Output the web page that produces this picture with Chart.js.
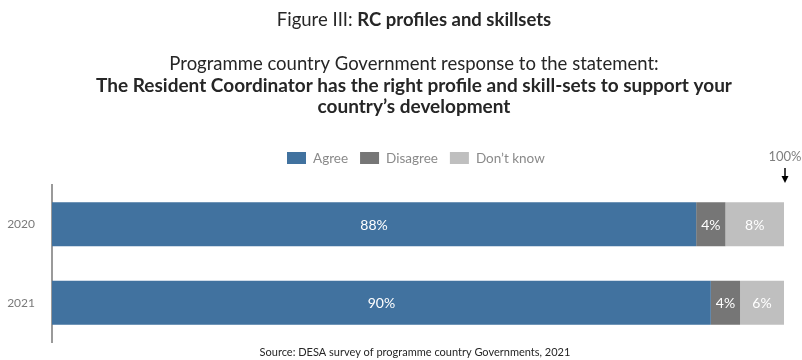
<!DOCTYPE html>
<html>
<head>
<meta charset="utf-8">
<script src="https://cdn.jsdelivr.net/npm/chart.js@4"></script>
<style>
  html, body { margin: 0; padding: 0; background: #fff; }
  #wrap { position: relative; width: 802px; height: 360px; }
</style>
</head>
<body>
<div id="wrap"><canvas id="rc-chart"></canvas></div>
<script>
// ── data ─────────────────────────────────────────────────────────────────────
var years = ['2020', '2021'];
var agree = [88, 90];
var disagree = [4, 4];
var dontKnow = [8, 6];
var seriesNames = ['Agree', 'Disagree', 'Don\u2019t know'];
var seriesColors = ['#41729f', '#767676', '#bfbfbf'];

var FONT = 'Lato, "Open Sans", sans-serif';

// Headings, legend, value labels, the 100% marker and the source line.
var decorPlugin = {
  id: 'decor',
  afterDraw: function(chart) {
    var ctx = chart.ctx;
    var cx = 414;
    ctx.save();
    ctx.textBaseline = 'middle';

    // mixed-weight line: draw pieces one after another, centred as a whole
    function mixed(parts, y, size) {
      var total = 0;
      parts.forEach(function(p) {
        ctx.font = (p.bold ? 'bold ' : '') + size + 'px ' + FONT;
        p.w = ctx.measureText(p.text).width;
        total += p.w;
      });
      var x = cx - total / 2;
      ctx.textAlign = 'left';
      parts.forEach(function(p) {
        ctx.font = (p.bold ? 'bold ' : '') + size + 'px ' + FONT;
        ctx.fillStyle = '#262626';
        ctx.fillText(p.text, x, y);
        x += p.w;
      });
    }
    mixed([{ text: 'Figure III: ' }, { text: 'RC profiles and skillsets', bold: true }], 20, 18.5);
    mixed([{ text: 'Programme country Government response to the statement:' }], 64, 18.5);
    mixed([{ text: 'The Resident Coordinator has the right profile and skill-sets to support your', bold: true }], 86, 19);
    mixed([{ text: 'country\u2019s development', bold: true }], 107, 19);

    // legend
    ctx.font = '13.5px ' + FONT;
    var lx = 287, ly = 158;
    chart.data.datasets.forEach(function(ds) {
      ctx.fillStyle = ds.backgroundColor;
      ctx.fillRect(lx, ly - 6, 19, 12);
      ctx.fillStyle = '#8a8a8a';
      ctx.textAlign = 'left';
      ctx.fillText(ds.label, lx + 26, ly + 1);
      lx += 26 + ctx.measureText(ds.label).width + 12;
    });

    // value labels centred in each segment
    ctx.font = '14px ' + FONT;
    ctx.fillStyle = '#ffffff';
    ctx.textAlign = 'center';
    chart.data.datasets.forEach(function(ds, di) {
      var meta = chart.getDatasetMeta(di);
      meta.data.forEach(function(bar, i) {
        var mid = (bar.x + bar.base) / 2;
        ctx.fillText(ds.data[i] + '%', mid, bar.y + 1);
      });
    });

    // 100% marker with arrow
    var xs = chart.scales.x;
    var x100 = xs.getPixelForValue(100);
    ctx.fillStyle = '#7f7f7f';
    ctx.font = '13px ' + FONT;
    ctx.textAlign = 'center';
    ctx.fillText('100%', x100 + 1, 157);
    ctx.strokeStyle = '#000';
    ctx.lineWidth = 1.5;
    ctx.beginPath();
    ctx.moveTo(x100 + 1, 168);
    ctx.lineTo(x100 + 1, 180);
    ctx.stroke();
    ctx.fillStyle = '#000';
    ctx.beginPath();
    ctx.moveTo(x100 - 2.5, 176);
    ctx.lineTo(x100 + 4.5, 176);
    ctx.lineTo(x100 + 1, 183);
    ctx.closePath();
    ctx.fill();

    // source
    ctx.fillStyle = '#262626';
    ctx.font = '11px ' + FONT;
    ctx.textAlign = 'center';
    ctx.fillText('Source: DESA survey of programme country Governments, 2021', 415, 352);
    ctx.restore();
  }
};

var datasets = [agree, disagree, dontKnow].map(function(vals, i) {
  return {
    label: seriesNames[i],
    data: vals,
    backgroundColor: seriesColors[i],
    borderWidth: 0,
    barPercentage: 0.56,
    categoryPercentage: 1
  };
});

new Chart(document.getElementById('rc-chart'), {
  type: 'bar',
  data: { labels: years, datasets: datasets },
  plugins: [decorPlugin],
  options: {
    indexAxis: 'y',
    responsive: true,
    maintainAspectRatio: false,
    animation: false,
    layout: { padding: { top: 185, bottom: 18, right: 18, left: 0 } },
    plugins: { legend: { display: false }, tooltip: { enabled: false } },
    scales: {
      x: { stacked: true, min: 0, max: 100, display: false },
      y: {
        stacked: true,
        grid: { display: false },
        border: { display: true, color: '#9a9a9a', width: 2 },
        ticks: { color: '#7a7a7a', font: { family: FONT, size: 12 }, padding: 9 },
        afterFit: function(scale) { scale.width = 52; }
      }
    }
  }
});
</script>
</body>
</html>
